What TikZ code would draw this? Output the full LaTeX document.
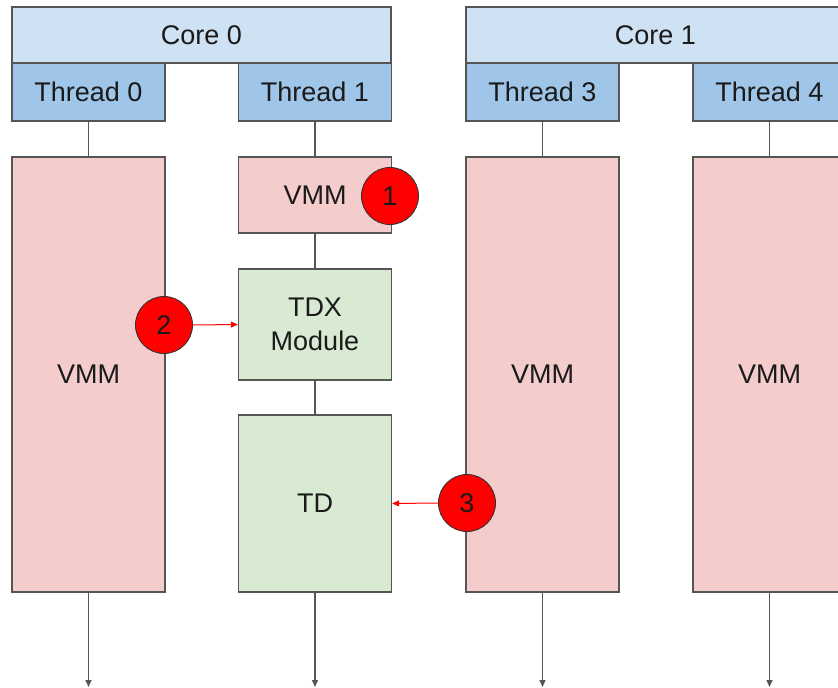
\documentclass[tikz,border=0pt]{standalone}
\usepackage{fontspec}
\setmainfont{Liberation Sans}
\usetikzlibrary{arrows.meta}
\definecolor{linec}{HTML}{555555}
\definecolor{corec}{HTML}{CFE2F3}
\definecolor{threadc}{HTML}{9FC5E8}
\definecolor{vmmc}{HTML}{F4CCCC}
\definecolor{tdxc}{HTML}{D9EAD3}
\definecolor{textc}{HTML}{1A1A1A}
\tikzset{
  box/.style={draw=linec, line width=1.3pt, inner sep=0pt, align=center, text=textc,
    font=\fontsize{27}{30}\selectfont},
  corebox/.style={box, fill=corec, minimum width=379pt, minimum height=56pt},
  threadbox/.style={box, fill=threadc, minimum width=153pt, minimum height=58pt},
  vmmbox/.style={box, fill=vmmc, minimum width=153pt},
  greenbox/.style={box, fill=tdxc, minimum width=153pt},
  badge/.style={circle, draw=black!80, line width=0.9pt, fill=red, minimum size=57pt, inner sep=0pt,
    text=textc, font=\fontsize{27}{30}\selectfont},
  link/.style={draw=linec, line width=1.3pt},
  down/.style={link, -{Triangle[length=7pt,width=6pt]}},
  redarrow/.style={draw=red, line width=1pt, -{Triangle[length=7pt,width=6pt]}}
}
\begin{document}
\begin{tikzpicture}[x=1pt,y=-1pt]
\useasboundingbox (0,0) rectangle (838,688);
\clip (0,0) rectangle (838,688);
% cores
\node[corebox] (core0) at (201.5,35) {Core 0};
\node[corebox] (core1) at (655.5,35) {Core 1};
% threads
\node[threadbox] (th0) at (88.5,92) {Thread 0};
\node[threadbox] (th1) at (315,92) {Thread 1};
\node[threadbox] (th3) at (542.5,92) {Thread 3};
\node[threadbox] (th4) at (769.5,92) {Thread 4};
% lower boxes
\node[vmmbox, minimum height=435pt] (vmm0) at (88.5,374.5) {VMM};
\node[vmmbox, minimum height=76pt] (vmm1) at (315,195) {VMM};
\node[greenbox, minimum height=111pt] (tdx) at (315,324.5) {TDX\\[4pt]Module};
\node[greenbox, minimum height=177pt] (td) at (315,503.5) {TD};
\node[vmmbox, minimum height=435pt] (vmm3) at (542.5,374.5) {VMM};
\node[vmmbox, minimum height=435pt] (vmm4) at (769.5,374.5) {VMM};
% connectors
\draw[link] (th0) -- (vmm0);
\draw[link] (th1) -- (vmm1);
\draw[link] (vmm1) -- (tdx);
\draw[link] (tdx) -- (td);
\draw[link] (th3) -- (vmm3);
\draw[link] (th4) -- (vmm4);
% bottom arrows
\coordinate (e0) at (88.5,687);
\coordinate (e1) at (315,687);
\coordinate (e3) at (542.5,687);
\coordinate (e4) at (769.5,687);
\draw[down] (vmm0.south) -- (e0);
\draw[down] (td.south) -- (e1);
\draw[down] (vmm3.south) -- (e3);
\draw[down] (vmm4.south) -- (e4);
% badges
\node[badge] (b1) at (390,196) {1};
\node[badge] (b2) at (164,325) {2};
\node[badge] (b3) at (467,503) {3};
\draw[redarrow] (b2.east) -- (tdx.west);
\draw[redarrow] (b3.west) -- (td.east);
\end{tikzpicture}
\end{document}
